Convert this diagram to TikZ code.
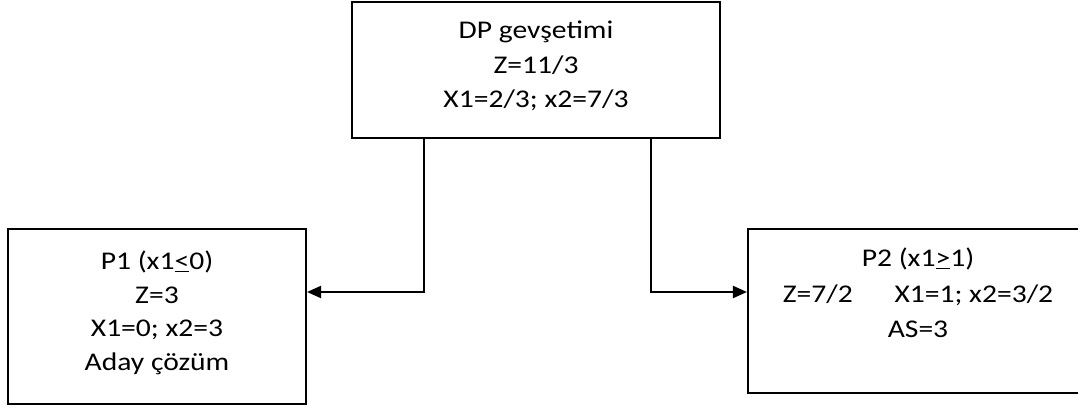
\documentclass[tikz,border=0pt]{standalone}
\usepackage{fontspec}
\setmainfont{Carlito}
\usetikzlibrary{arrows.meta}
\newcommand\wtxt[1]{\scalebox{1.16}[1]{#1}}
\begin{document}
\begin{tikzpicture}[x=1pt,y=1pt,
  box/.style={draw=black,line width=2.1pt,rectangle,inner sep=0pt},
  lbl/.style={anchor=base,inner sep=0pt,font=\fontsize{25.5}{30}\selectfont},
  conn/.style={draw=black,line width=2.1pt,-{Triangle[length=14pt,width=12pt]}}]
\useasboundingbox (0,0) rectangle (1078,412);
\clip (0,0) rectangle (1078,412);
\node[box,minimum width=368pt,minimum height=136pt] (top) at (536,342) {};
\node[box,minimum width=298pt,minimum height=175pt] (p1) at (157,95.5) {};
\node[box,minimum width=340pt,minimum height=164pt] (p2) at (918,101) {};
% top texts
\node[lbl] (t1) at (536,373) {\wtxt{DP gevşetimi}};
\node[lbl] (t2) at (536,338) {\wtxt{Z=11/3}};
\node[lbl] (t3) at (536,304) {\wtxt{X1=2/3; x2=7/3}};
% left texts
\node[lbl] (a1) at (157,142) {\wtxt{P1 (x1\underline{<}0)}};
\node[lbl] (a2) at (157,108.5) {\wtxt{Z=3}};
\node[lbl] (a3) at (157,75) {\wtxt{X1=0; x2=3}};
\node[lbl] (a4) at (157,41.5) {\wtxt{Aday çözüm}};
% right texts
\node[lbl] (b1) at (918,145) {\wtxt{P2 (x1\underline{>}1)}};
\node[lbl] (b2) at (918,109.5) {\wtxt{Z=7/2\hspace{36pt}X1=1; x2=3/2}};
\node[lbl] (b3) at (918,74) {\wtxt{AS=3}};
% connectors
\draw[conn] (top.south -| 424,0) |- (p1.east |- 0,120);
\draw[conn] (top.south -| 651,0) |- (p2.west |- 0,120);
\end{tikzpicture}
\end{document}
